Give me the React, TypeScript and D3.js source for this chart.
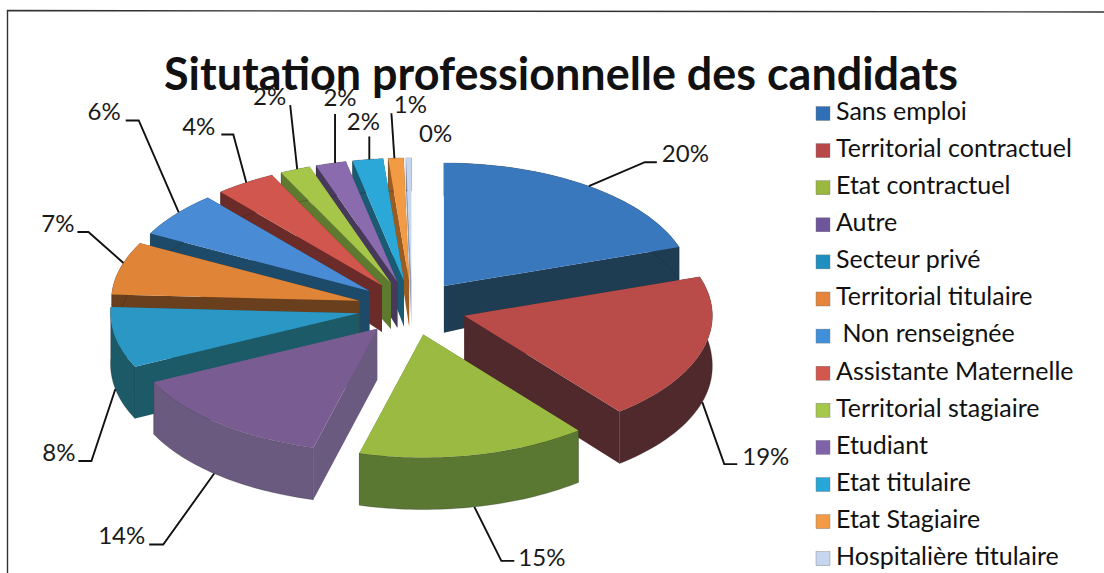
import React from "react";
import * as d3 from "d3";

const categories = ["Sans emploi","Territorial contractuel","Etat contractuel","Autre","Secteur privé","Territorial titulaire"," Non renseignée","Assistante Maternelle","Territorial stagiaire","Etudiant","Etat titulaire","Etat Stagiaire","Hospitalière titulaire"];
const values = [20,19.5,15,13.8,8,7,6,4,2,2,2,1,0.35];
const labels = ["20%","19%","15%","14%","8%","7%","6%","4%","2%","2%","2%","1%","0%"];
const topColors = ["#3a78bd","#b94c48","#9aba42","#785c92","#2b97c4","#e08538","#4a8bd6","#d0564e","#a6c64a","#8a6cae","#2ca8d8","#f29a44","#c6d6ee"];
const wallColors = ["#1f3d52","#50292c","#5b7833","#6b5a80","#1d5a68","#6a3f1e","#1d4a68","#6b2b28","#5e7a2e","#46395a","#1a5a72","#9a5c20","#8d9cb4"];
const legendColors = ["#2f6fb5","#b8474a","#9bb83e","#6f559c","#1f8fc0","#e5843a","#3f8fdb","#d2574e","#a6c84a","#7f62a8","#27a6d8","#f29a44","#c6d6ee"];
const leaderBends = [[56,-24,12],[22,62,13],[27,54,13],[-51,71,-14],[-24,72,-13],[-35,-31,-11],[-40,-92,-13],[-13,-48,-12],[-7,-64,0],[0,-49,0],[0,-23,0],[-3,-45,0],null];
const labelAnchors = [[5,-6,"start"],[5,-5,"start"],[4,-1,"start"],[-4,-7,"end"],[-3,-6,"end"],[-3,-6,"end"],[-5,-7,"end"],[-6,-6,"end"],[-4,-6,"end"],[5,-14,"middle"],[-6,-13,"middle"],[19,-6,"middle"],[27,-22,"middle"]];
const labelAngleShare = [0.5,0.5,0.5,0.53,0.5,0.6,0.55,0.52,0.57,0.64,0.55,0.4,0.5];

const W = 1104, H = 573;
const cx = 412, cy = 308, Rx = 248, Ry = 123, explode = 0.22;
const FONT = "Lato, Carlito, Calibri, sans-serif";

const pie = d3.pie<number>().sort(null).startAngle(0).endAngle(2 * Math.PI);
const arcs = pie(values);

const depthOf = (f: number) => {
  const t = Math.max(0, Math.min(1, (1.2 - f) / 1.7));
  return 52 - 19 * Math.pow(t, 6);
};

function apexOf(a: { startAngle: number; endAngle: number }) {
  const m = (a.startAngle + a.endAngle) / 2;
  return [Math.sin(m) * explode, -Math.cos(m) * explode];
}
function project(a: any, r: number, th: number, z: number) {
  const [ax, af] = apexOf(a);
  const x = ax + r * Math.sin(th), f = af - r * Math.cos(th);
  return [cx + x * Rx, cy + f * Ry + z * depthOf(f)];
}
const ln = d3.line();

function App() {
  const marks: { key: number; fwd: number; node: React.ReactNode }[] = [];
  arcs.forEach((a, i) => {
    const ths = d3.range(0, 41).map((k) => a.startAngle + ((a.endAngle - a.startAngle) * k) / 40);
    const topPts = [project(a, 0, 0, 0), ...ths.map((t) => project(a, 1, t, 0))];
    const wall = (pts: number[][]) => ln(pts as any) + "Z";
    const sWall = [project(a,0,0,0), project(a,1,a.startAngle,0), project(a,1,a.startAngle,1), project(a,0,0,1)];
    const eWall = [project(a,0,0,0), project(a,1,a.endAngle,0), project(a,1,a.endAngle,1), project(a,0,0,1)];
    const oWall = [...ths.map((t) => project(a,1,t,0)), ...ths.slice().reverse().map((t) => project(a,1,t,1))];
    const fwd = apexOf(a)[1] - 0.5 * (Math.cos(a.startAngle) + Math.cos(a.endAngle)) * 0.5;
    marks.push({
      key: i, fwd,
      node: (
        <g key={i}>
          <path d={wall(sWall)} fill={wallColors[i]} />
          <path d={wall(eWall)} fill={wallColors[i]} />
          <path d={wall(oWall)} fill={wallColors[i]} stroke="#222" strokeOpacity={0.35} strokeWidth={0.8} />
          <path d={wall(topPts)} fill={topColors[i]} />
        </g>
      ),
    });
  });
  marks.sort((p, q) => p.fwd - q.fwd);

  return (
    <svg width={W} height={H} style={{ position: "absolute", left: 0, top: 0, background: "#ffffff" }} fontFamily={FONT}>
      <path d="M7.5,573 L7.5,10.5 L1104,12" fill="none" stroke="#333" strokeWidth={1.4} />
      <text x={561} y={90} textAnchor="middle" fontSize={46} fontWeight={700} fill="#111" textLength={794} lengthAdjust="spacingAndGlyphs">Situtation professionnelle des candidats</text>
      {marks.map((m) => m.node)}
      {arcs.map((a, i) => {
        const share = labelAngleShare[i];
        const th = a.startAngle + (a.endAngle - a.startAngle) * share;
        const f = apexOf(a)[1] - Math.cos(th);
        const z = f > 0.15 ? 1 : 0;
        const p = project(a, 1, th, z);
        const b = leaderBends[i];
        let ex = p[0], ey = p[1];
        let d = "";
        if (b) {
          ex = p[0] + b[0] + b[2]; ey = p[1] + b[1];
          d = ln([[p[0], p[1]], [p[0] + b[0], p[1] + b[1]], [ex, ey]] as any) as string;
        }
        const la = labelAnchors[i];
        return (
          <g key={i}>
            {d && <path d={d} fill="none" stroke="#111" strokeWidth={1.9} />}
            <text x={ex + (la[0] as number)} y={ey + (la[1] as number)} fontSize={24} dominantBaseline="middle" textAnchor={la[2] as any} fill="#1a1a1a">{labels[i]}</text>
          </g>
        );
      })}
      {categories.map((c, i) => {
        const y = 113.5 + i * 37.1;
        return (
          <g key={c}>
            <rect x={816} y={y - 7} width={14} height={14} fill={legendColors[i]} stroke="#777" strokeWidth={0.4} />
            <text x={836} y={y} fontSize={25} dominantBaseline="middle" fill="#111" style={{ whiteSpace: "pre" }} xmlSpace="preserve">{c}</text>
          </g>
        );
      })}
    </svg>
  );
}
export default App;
